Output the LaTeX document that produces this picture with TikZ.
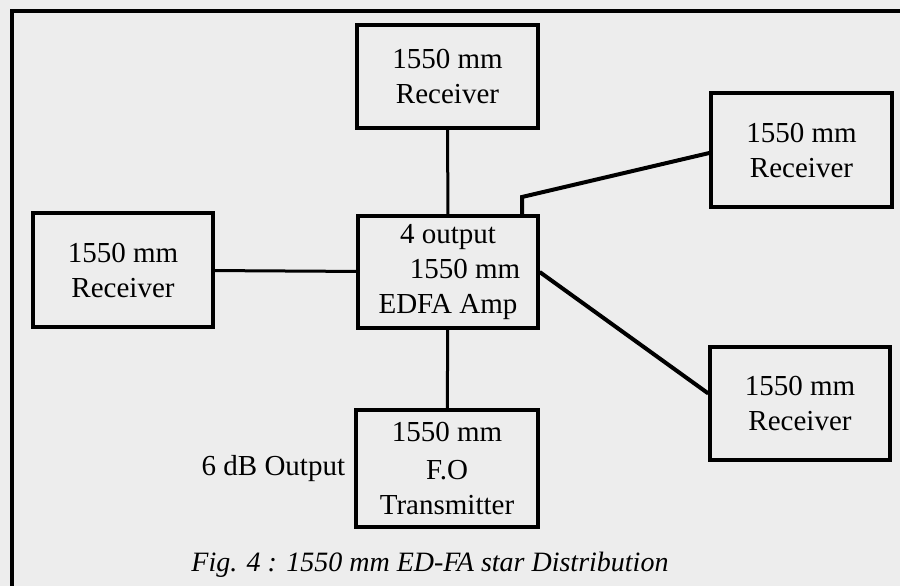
\documentclass[tikz,border=0pt]{standalone}
\usepackage{fontspec}
\setmainfont{Liberation Serif}
\usetikzlibrary{positioning,calc}

\definecolor{paper}{RGB}{237,237,237}
\tikzset{
  unitbox/.style={draw=black, line width=3.4pt, fill=paper, inner sep=0pt,
    align=center, font=\fontsize{29}{35}\selectfont},
  link/.style={line width=3pt},
  thicklink/.style={line width=4pt},
}

\begin{document}
\begin{tikzpicture}[x=1pt, y=-1pt]
        % Paper and outer frame
        \useasboundingbox (0,0) rectangle (900,586);
        \clip (0,0) rectangle (900,586);
        \fill[paper] (0,0) rectangle (900,586);
        \draw[line width=4.5pt] (12,600) -- (12,11) -- (910,11);

        % Receivers
        \node[unitbox, minimum width=181pt, minimum height=103pt] (rxtop) at (447.5,76.5) {1550 mm\\Receiver};
        \node[unitbox, minimum width=181pt, minimum height=114pt] (rxtr) at (801.5,150) {1550 mm\\Receiver};
        \node[unitbox, minimum width=180pt, minimum height=114pt] (rxl) at (123,270) {1550 mm\\Receiver};
        \node[unitbox, minimum width=180pt, minimum height=113pt] (rxbr) at (800,403.5) {1550 mm\\Receiver};

        % Amplifier and transmitter
        \node[unitbox, minimum width=180pt, minimum height=112pt] (edfa) at (448,272) {4 output\\\hspace*{34pt}1550 mm\\EDFA Amp};
        \node[unitbox, minimum width=182pt, minimum height=117pt] (tx) at (447,468.5) {\raisebox{3pt}{1550 mm}\\F.O\\Transmitter};
        \node[left=9pt of tx, inner sep=0pt, font=\fontsize{29}{35}\selectfont] (txout) {6 dB Output};

        % Fibre links
        \draw[link] (rxtop) -- (edfa);
        \draw[link] (rxl) -- (edfa);
        \draw[link] (edfa) -- (tx);
        \coordinate (bend) at (522,197);
        \draw[thicklink] (edfa.north -| bend) -- (bend) -- ($(rxtr.west)+(0,3)$);
        \draw[thicklink] (edfa.east) -- ($(rxbr.west)+(0,-10)$);

        % Caption
        \node[font=\itshape\fontsize{28}{34}\selectfont] (caption) at (430,565) {Fig. 4 : 1550 mm ED-FA star Distribution};
    \end{tikzpicture}
\end{document}
